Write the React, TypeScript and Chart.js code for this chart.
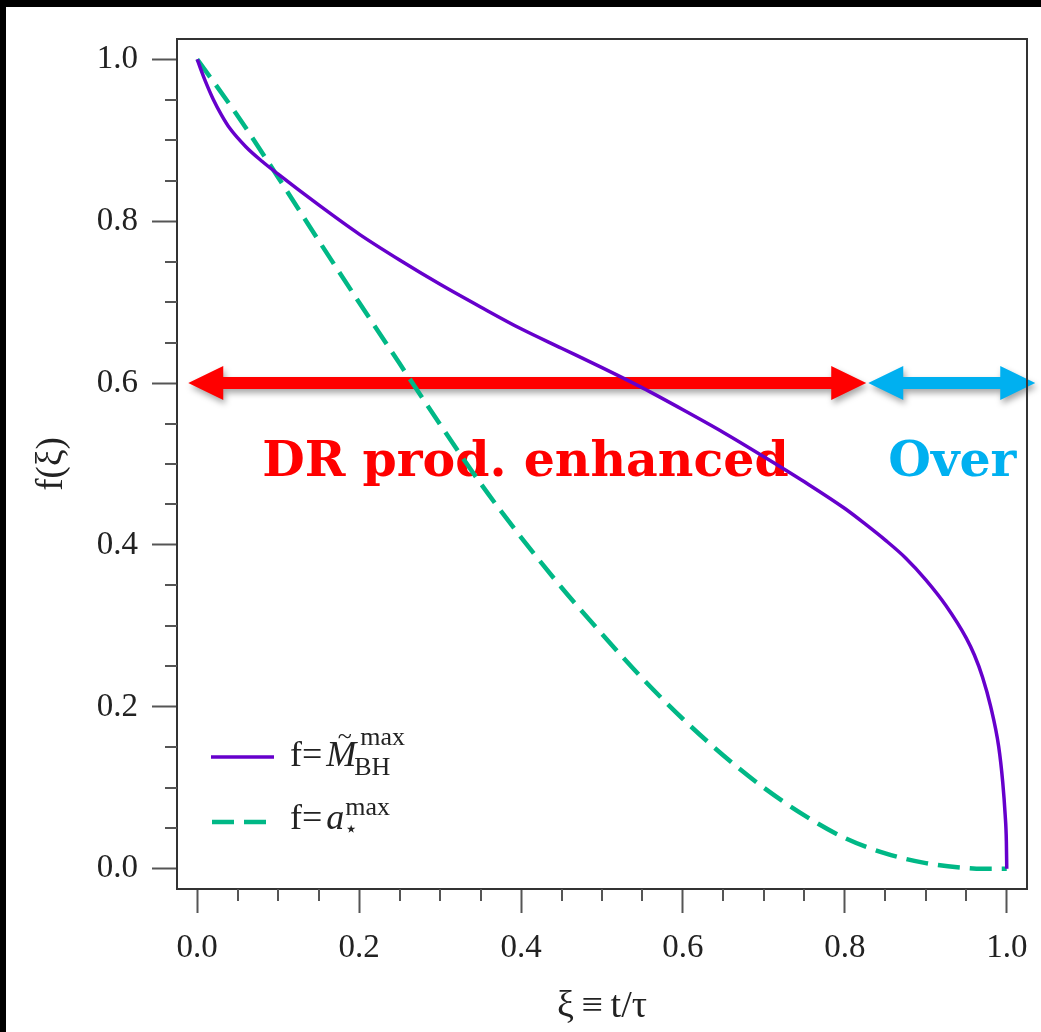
import React, { useEffect, useRef } from "react";
import { Chart, registerables } from "chart.js";

Chart.register(...registerables);

// ---- data ----
const XI_MBH = [0, 0.005, 0.01, 0.02, 0.03, 0.04, 0.06, 0.08, 0.1, 0.15, 0.2, 0.25, 0.3, 0.35, 0.4, 0.45, 0.5, 0.55, 0.6, 0.65, 0.7, 0.75, 0.8, 0.825, 0.85, 0.875, 0.9, 0.925, 0.95, 0.96, 0.97, 0.98, 0.99, 0.995, 0.998, 0.9995, 1.0];
const F_MBH = [1.0, 0.986, 0.973, 0.95, 0.931, 0.915, 0.892, 0.874, 0.858, 0.82, 0.784, 0.752, 0.722, 0.694, 0.667, 0.643, 0.619, 0.594, 0.567, 0.539, 0.509, 0.478, 0.445, 0.426, 0.406, 0.384, 0.357, 0.325, 0.285, 0.264, 0.237, 0.201, 0.151, 0.107, 0.067, 0.034, 0.0];
const XI_ASTAR = [0, 0.05, 0.1, 0.15, 0.2, 0.25, 0.3, 0.35, 0.4, 0.45, 0.5, 0.55, 0.6, 0.65, 0.7, 0.75, 0.8, 0.85, 0.9, 0.95, 0.97, 1.0];
const F_ASTAR = [1.0, 0.93, 0.854, 0.776, 0.6995, 0.624, 0.549, 0.476, 0.4095, 0.3475, 0.29, 0.235, 0.185, 0.14, 0.1, 0.066, 0.038, 0.019, 0.007, 0.001, 0.0, 0.0];

const X_TICKS = [0, 0.2, 0.4, 0.6, 0.8, 1.0];
const Y_TICKS = [0, 0.2, 0.4, 0.6, 0.8, 1.0];
const X_MINOR = [0.05, 0.1, 0.15, 0.25, 0.3, 0.35, 0.45, 0.5, 0.55, 0.65, 0.7, 0.75, 0.85, 0.9, 0.95];
const Y_MINOR = [0.05, 0.1, 0.15, 0.25, 0.3, 0.35, 0.45, 0.5, 0.55, 0.65, 0.7, 0.75, 0.85, 0.9, 0.95];

const X_TITLE = "ξ\u2009≡\u2009t/τ";
const Y_TITLE = "f(ξ)";

// annotations (data coordinates)
const ARROW_Y = 0.6;
const RED_ARROW = [-0.0111, 0.8264];
const BLUE_ARROW = [0.8289, 1.0352];
const LABEL_DR = "DR prod. enhanced";
const LABEL_OVER = "Over";
const LABEL_DR_X = 0.0803;
const LABEL_OVER_X = 0.8536;
const LABEL_Y = 0.485;

// ---- styles ----
const PURPLE = "#6600cc";
const GREEN = "#00b886";
const RED = "#ff0000";
const CYAN = "#00b0f0";
const SERIF = '"Liberation Serif", serif';

function drawArrow(ctx: CanvasRenderingContext2D, x0: number, x1: number, y: number, color: string) {
  const headL = 35, headH = 17, shaftH = 6;
  ctx.save();
  ctx.fillStyle = color;
  ctx.shadowColor = "rgba(0,0,0,0.35)";
  ctx.shadowBlur = 6;
  ctx.shadowOffsetX = 2;
  ctx.shadowOffsetY = 4;
  ctx.beginPath();
  ctx.moveTo(x0, y);
  ctx.lineTo(x0 + headL, y - headH);
  ctx.lineTo(x0 + headL, y - shaftH);
  ctx.lineTo(x1 - headL, y - shaftH);
  ctx.lineTo(x1 - headL, y - headH);
  ctx.lineTo(x1, y);
  ctx.lineTo(x1 - headL, y + headH);
  ctx.lineTo(x1 - headL, y + shaftH);
  ctx.lineTo(x0 + headL, y + shaftH);
  ctx.lineTo(x0 + headL, y + headH);
  ctx.closePath();
  ctx.fill();
  ctx.restore();
}

const decoPlugin = {
  id: "deco",
  beforeDatasetsDraw(chart: any) {
    const { ctx, scales } = chart;
    const x = scales.x, y = scales.y;
    const ay = y.getPixelForValue(ARROW_Y);
    drawArrow(ctx, x.getPixelForValue(RED_ARROW[0]), x.getPixelForValue(RED_ARROW[1]), ay, RED);
    drawArrow(ctx, x.getPixelForValue(BLUE_ARROW[0]), x.getPixelForValue(BLUE_ARROW[1]), ay, CYAN);
    ctx.save();
    ctx.font = 'bold 49px "DejaVu Serif", serif';
    ctx.textBaseline = "alphabetic";
    ctx.textAlign = "left";
    const ly = y.getPixelForValue(LABEL_Y);
    ctx.fillStyle = RED;
    ctx.fillText(LABEL_DR, x.getPixelForValue(LABEL_DR_X), ly);
    ctx.fillStyle = CYAN;
    ctx.fillText(LABEL_OVER, x.getPixelForValue(LABEL_OVER_X), ly);
    ctx.restore();
  },
  afterDraw(chart: any) {
    const { ctx, chartArea: a, scales } = chart;
    ctx.save();
    // frame
    ctx.strokeStyle = "#333";
    ctx.lineWidth = 2;
    ctx.strokeRect(a.left, a.top, a.right - a.left, a.bottom - a.top);
    // minor ticks
    ctx.strokeStyle = "#555";
    ctx.lineWidth = 2;
    ctx.beginPath();
    for (const v of X_MINOR) {
      const px = Math.round(scales.x.getPixelForValue(v));
      ctx.moveTo(px, a.bottom);
      ctx.lineTo(px, a.bottom + 12);
    }
    for (const v of Y_MINOR) {
      const py = Math.round(scales.y.getPixelForValue(v));
      ctx.moveTo(a.left, py);
      ctx.lineTo(a.left - 12, py);
    }
    ctx.stroke();

    // legend
    const L = a.left, T = a.top;
    ctx.lineWidth = 3.5;
    ctx.strokeStyle = PURPLE;
    ctx.beginPath();
    ctx.moveTo(L + 34, T + 718);
    ctx.lineTo(L + 97, T + 718);
    ctx.stroke();
    ctx.lineWidth = 4.5;
    ctx.strokeStyle = GREEN;
    ctx.setLineDash([22, 10]);
    ctx.beginPath();
    ctx.moveTo(L + 35, T + 783);
    ctx.lineTo(L + 90, T + 783);
    ctx.stroke();
    ctx.setLineDash([]);

    ctx.fillStyle = "#222";
    ctx.textBaseline = "alphabetic";
    ctx.textAlign = "left";
    const main = `36px ${SERIF}`;
    const ital = `italic 36px ${SERIF}`;
    const scr = `26px ${SERIF}`;
    // line 1
    let tx = L + 113;
    let ty = T + 727;
    ctx.font = main;
    ctx.fillText("f=", tx, ty);
    tx += ctx.measureText("f=").width + 4;
    ctx.font = ital;
    ctx.fillText("M", tx, ty);
    const mw = ctx.measureText("M").width;
    ctx.font = scr;
    const tw = ctx.measureText("~").width;
    ctx.fillText("~", tx + mw * 0.62 - tw / 2, ty - 22);
    const sx = tx + mw + 1;
    ctx.fillText("max", sx + 3, ty - 21);
    ctx.fillText("BH", sx - 3, ty + 9);
    // line 2
    tx = L + 113;
    ty = T + 790;
    ctx.font = main;
    ctx.fillText("f=", tx, ty);
    tx += ctx.measureText("f=").width + 4;
    ctx.font = ital;
    ctx.fillText("a", tx, ty);
    const aw = ctx.measureText("a").width;
    ctx.font = scr;
    ctx.fillText("max", tx + aw + 1, ty - 14);
    ctx.font = '22px "DejaVu Sans", sans-serif';
    ctx.fillText("⋆", tx + aw, ty + 7);
    ctx.restore();
  },
};

export default function App() {
  const canvasRef = useRef<HTMLCanvasElement | null>(null);

  useEffect(() => {
    const canvas = canvasRef.current;
    if (!canvas) return;
    const chart = new Chart(canvas, {
      type: "line",
      data: {
        datasets: [
          {
            label: "f=M̃BH max",
            data: XI_MBH.map((v, i) => ({ x: v, y: F_MBH[i] })),
            borderColor: PURPLE,
            borderWidth: 3.5,
            pointRadius: 0,
            fill: false,
            cubicInterpolationMode: "monotone",
          },
          {
            label: "f=a⋆ max",
            data: XI_ASTAR.map((v, i) => ({ x: v, y: F_ASTAR[i] })),
            borderColor: GREEN,
            borderWidth: 4.5,
            borderDash: [22, 10],
            pointRadius: 0,
            fill: false,
            cubicInterpolationMode: "monotone",
          },
        ],
      },
      options: {
        animation: false,
        responsive: false,
        events: [],
        layout: { padding: { top: 32, right: 14, left: 0, bottom: 0 } },
        plugins: {
          legend: { display: false },
          tooltip: { enabled: false },
        },
        scales: {
          x: {
            type: "linear",
            min: -0.025,
            max: 1.025,
            afterBuildTicks: (s: any) => {
              s.ticks = X_TICKS.map((v) => ({ value: v }));
            },
            afterFit: (s: any) => {
              s.height = 143;
              s.paddingLeft = 0;
              s.paddingRight = 0;
            },
            grid: {
              drawOnChartArea: false,
              drawTicks: true,
              tickLength: 24,
              tickWidth: 2,
              tickColor: "#555",
            },
            border: { display: false },
            ticks: {
              color: "#222",
              font: { family: SERIF, size: 33 },
              padding: 16,
              maxRotation: 0,
              callback: (v: any) => Number(v).toFixed(1),
            },
            title: {
              display: true,
              text: X_TITLE,
              color: "#222",
              font: { family: SERIF, size: 38 },
              padding: { top: 0, bottom: 2 },
            },
          },
          y: {
            type: "linear",
            min: -0.025,
            max: 1.025,
            afterBuildTicks: (s: any) => {
              s.ticks = Y_TICKS.map((v) => ({ value: v }));
            },
            afterFit: (s: any) => {
              s.width = 171;
              s.paddingTop = 0;
              s.paddingBottom = 0;
            },
            grid: {
              drawOnChartArea: false,
              drawTicks: true,
              tickLength: 25,
              tickWidth: 2,
              tickColor: "#555",
            },
            border: { display: false },
            ticks: {
              color: "#222",
              font: { family: SERIF, size: 33 },
              padding: 14,
              callback: (v: any) => Number(v).toFixed(1),
            },
            title: {
              display: true,
              text: Y_TITLE,
              color: "#222",
              font: { family: SERIF, size: 37 },
              padding: { top: 24, bottom: 0 },
            },
          },
        },
      },
      plugins: [decoPlugin],
    } as any);
    return () => chart.destroy();
  }, []);

  return (
    <div
      style={{
        position: "fixed",
        left: 0,
        top: 0,
        width: 1041,
        height: 1032,
        background: "#000",
        overflow: "hidden",
      }}
    >
      <canvas
        ref={canvasRef}
        width={1035}
        height={1025}
        style={{ position: "absolute", left: 6, top: 7, width: 1035, height: 1025, background: "#fff", display: "block" }}
      />
    </div>
  );
}
